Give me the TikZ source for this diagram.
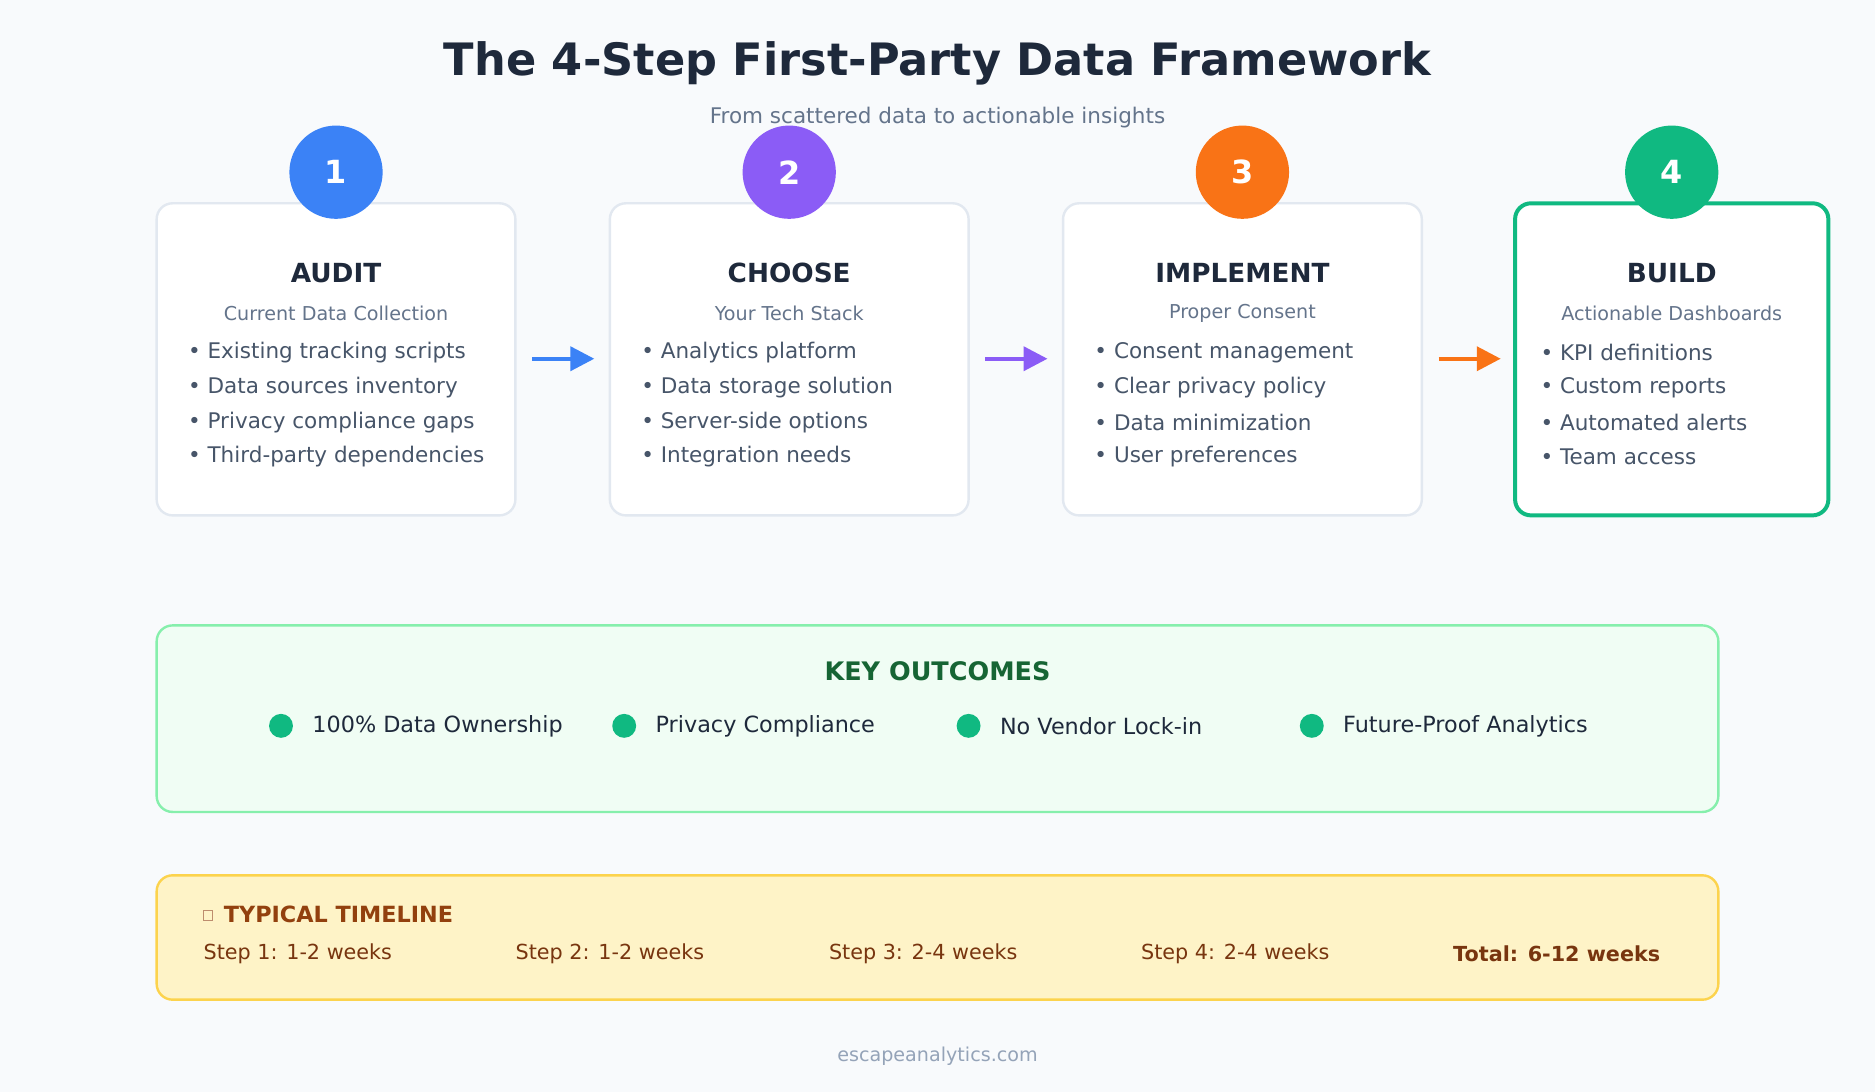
\documentclass[tikz,border=0pt]{standalone}
\usepackage{fontspec}
\setmainfont{DejaVu Sans}
\usetikzlibrary{positioning,arrows.meta}
\definecolor{bgc}{HTML}{F8FAFC}
\definecolor{ink}{HTML}{1E293B}
\definecolor{muted}{HTML}{64748B}
\definecolor{bodyc}{HTML}{475569}
\definecolor{edgec}{HTML}{E2E8F0}
\definecolor{stepa}{HTML}{3B82F6}
\definecolor{stepb}{HTML}{8B5CF6}
\definecolor{stepc}{HTML}{F97316}
\definecolor{stepd}{HTML}{10B981}
\definecolor{okfill}{HTML}{F0FDF4}
\definecolor{okedge}{HTML}{86EFAC}
\definecolor{okink}{HTML}{166534}
\definecolor{tlfill}{HTML}{FEF3C7}
\definecolor{tledge}{HTML}{FCD34D}
\definecolor{tlink}{HTML}{92400E}
\definecolor{tltext}{HTML}{78350F}
\definecolor{footc}{HTML}{94A3B8}
\newcommand{\fs}[1]{\fontsize{#1}{#1}\selectfont}

\begin{document}
\begin{tikzpicture}[x=0.75pt,y=-0.75pt,
    card/.style={draw=edgec, line width=1.5pt, fill=white, rounded corners=10pt},
    badge/.style={circle, minimum size=58.5pt, inner sep=0pt, text=white, font=\fs{20}\bfseries},
    heading/.style={text=ink, font=\fs{16.5}\bfseries},
    sub/.style={text=muted, font=\fs{12}},
    item/.style={text=bodyc, font=\fs{13.5}, anchor=west, inner sep=0pt},
    flow/.style={-{Triangle[length=15pt,width=15pt]}, line width=2.5pt, shorten >=0pt},
    dot/.style={circle, fill=stepd, minimum size=15pt, inner sep=0pt},
    outcome/.style={text=ink, font=\fs{14}, anchor=west, inner sep=0pt},
    tl/.style={text=tltext, font=\fs{13}, anchor=west, inner sep=0pt}
]
\fill[bgc] (0,0) rectangle (1568,913);

\node[text=ink, font=\fs{28}\bfseries] (title) at (784,53) {The 4-Step First-Party Data Framework};
\node[text=muted, font=\fs{13.5}] (subtitle) at (784,98) {From scattered data to actionable insights};

% step cards
\draw[card] (131,170) rectangle (431,431);
\draw[card] (510,170) rectangle (810,431);
\draw[card] (889,170) rectangle (1189,431);
\draw[card, draw=stepd, line width=2.5pt] (1267,170) rectangle (1529,431);

\node[badge, fill=stepa] (one) at (281,144) {1};
\node[badge, fill=stepb] (two) at (660,144) {2};
\node[badge, fill=stepc] (three) at (1039,144) {3};
\node[badge, fill=stepd] (four) at (1398,144) {4};

\node[heading] (audit) at (281,228) {AUDIT};
\node[sub] (auditsub) at (281,262) {Current Data Collection};
\node[heading] (choose) at (660,228) {CHOOSE};
\node[sub] (choosesub) at (660,262) {Your Tech Stack};
\node[heading] (implement) at (1039,228) {IMPLEMENT};
\node[sub] (implementsub) at (1039,262) {Proper Consent};
\node[heading] (build) at (1398,228) {BUILD};
\node[sub] (buildsub) at (1398,262) {Actionable Dashboards};

\foreach \t [count=\i] in {Existing tracking scripts, Data sources inventory, Privacy compliance gaps, Third-party dependencies}
  \node[item] (a\i) at (157,266+29*\i) {• \t};
\foreach \t [count=\i] in {Analytics platform, Data storage solution, Server-side options, Integration needs}
  \node[item] (b\i) at (536,266+29*\i) {• \t};
\foreach \t [count=\i] in {Consent management, Clear privacy policy, Data minimization, User preferences}
  \node[item] (c\i) at (915,266+29*\i) {• \t};
\foreach \t [count=\i] in {KPI definitions, Custom reports, Automated alerts, Team access}
  \node[item] (d\i) at (1288,266+29*\i) {• \t};

% arrows between cards
\coordinate (ab1) at (445,300); \coordinate (ab2) at (497,300);
\coordinate (bc1) at (824,300); \coordinate (bc2) at (876,300);
\coordinate (cd1) at (1203,300); \coordinate (cd2) at (1255,300);
\draw[flow, stepa] (ab1) -- (ab2);
\draw[flow, stepb] (bc1) -- (bc2);
\draw[flow, stepc] (cd1) -- (cd2);

% key outcomes
\draw[draw=okedge, fill=okfill, line width=1.5pt, rounded corners=10pt] (131,523) rectangle (1437,679);
\node[text=okink, font=\fs{16}\bfseries] (outcomes) at (784,561) {KEY OUTCOMES};
\foreach \x/\t [count=\i] in {235/100\% Data Ownership, 522/Privacy Compliance, 810/No Vendor Lock-in, 1097/Future-Proof Analytics}{
  \node[dot] (o\i) at (\x,607) {};
  \node[outcome] (ot\i) at (\x+26,607) {\t};
}

% timeline
\draw[draw=tledge, fill=tlfill, line width=1.5pt, rounded corners=10pt] (131,732) rectangle (1437,836);
\draw[tlink!60, line width=0.5pt] (170,761) rectangle (178,770);
\node[tl, text=tlink, font=\fs{14}\bfseries] (tltitle) at (187,765) {TYPICAL TIMELINE};
\node[tl] (s1) at (170,798) {Step 1: 1-2 weeks};
\node[tl] (s2) at (431,798) {Step 2: 1-2 weeks};
\node[tl] (s3) at (693,798) {Step 3: 2-4 weeks};
\node[tl] (s4) at (954,798) {Step 4: 2-4 weeks};
\node[tl, font=\fs{13}\bfseries] (total) at (1215,798) {Total: 6-12 weeks};

\node[text=footc, font=\fs{12}] (footer) at (784,883) {escapeanalytics.com};
\end{tikzpicture}
\end{document}
